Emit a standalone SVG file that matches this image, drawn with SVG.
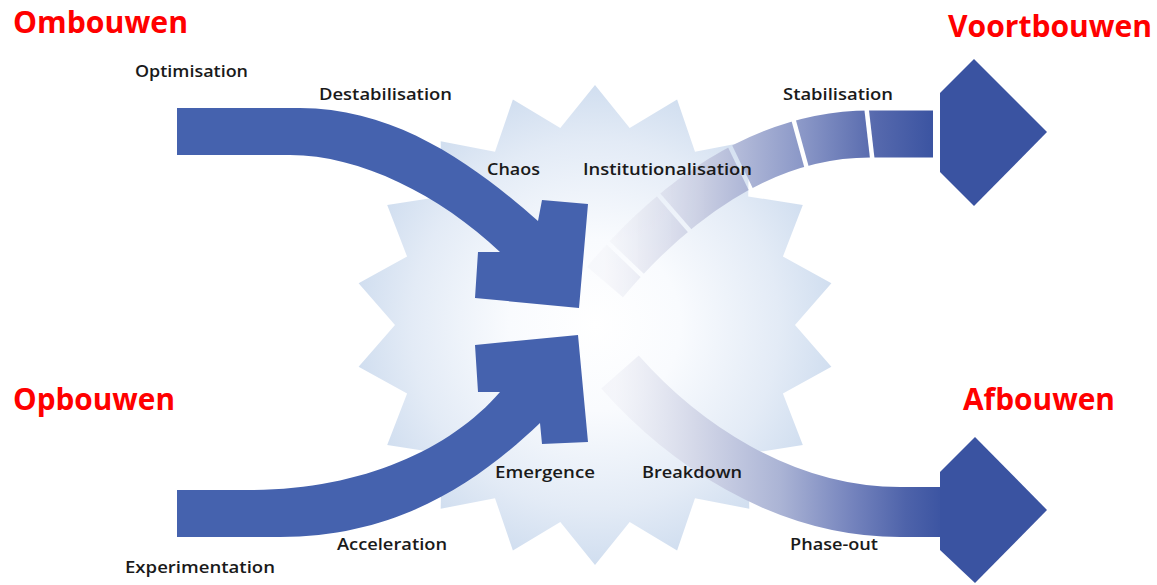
<svg xmlns="http://www.w3.org/2000/svg" width="1157" height="585" viewBox="0 0 1157 585">
<defs>
<style>
.lbl{font-family:"Open Sans","Liberation Sans",sans-serif;font-weight:600;font-size:16px;fill:#1a1a1a}
.ttl{font-family:"Open Sans","Liberation Sans",sans-serif;font-weight:700;font-size:30px;fill:#ff0000}
.solid{fill:#4562ae}
.dark{fill:#3a53a1}
</style>
<radialGradient id="starGrad" gradientUnits="userSpaceOnUse" cx="595" cy="325" r="245">
<stop offset="0" stop-color="#ffffff"/>
<stop offset="0.35" stop-color="#f9fbfe"/>
<stop offset="0.75" stop-color="#e3ebf6"/>
<stop offset="1" stop-color="#cfddef"/>
</radialGradient>
<linearGradient id="upGrad" gradientUnits="userSpaceOnUse" x1="605" y1="0" x2="935" y2="0">
<stop offset="0" stop-color="#f4f5f9" stop-opacity="0.6"/>
<stop offset="0.3" stop-color="#c8cde2"/>
<stop offset="0.6" stop-color="#8a97c7"/>
<stop offset="0.82" stop-color="#5669ad"/>
<stop offset="1" stop-color="#3a53a1"/>
</linearGradient>
<linearGradient id="downGrad" gradientUnits="userSpaceOnUse" x1="615" y1="0" x2="945" y2="0">
<stop offset="0" stop-color="#f0f1f7" stop-opacity="0.6"/>
<stop offset="0.25" stop-color="#d3d7e8"/>
<stop offset="0.5" stop-color="#abb4d5"/>
<stop offset="0.72" stop-color="#7483bd"/>
<stop offset="0.88" stop-color="#4e63aa"/>
<stop offset="1" stop-color="#3a53a1"/>
</linearGradient>
<mask id="gaps" maskUnits="userSpaceOnUse" x="0" y="0" width="1157" height="585">
<rect x="0" y="0" width="1157" height="585" fill="#fff"/>
<g stroke="#000" stroke-width="4.5">
<line x1="866" y1="104" x2="873" y2="165"/>
<line x1="793" y1="118" x2="809" y2="176"/>
<line x1="728" y1="142" x2="754" y2="196"/>
<line x1="656" y1="192" x2="696" y2="238"/>
<line x1="603" y1="238" x2="647" y2="280"/>
</g>
</mask>
</defs>
<rect width="1157" height="585" fill="#ffffff"/>

<g id="chaos-star">
<polygon fill="url(#starGrad)" points="595,85 629.7,128 677.1,99.5 695,151.8 749.3,141.2 748.2,196.4 802.8,205 782.9,256.6 831.4,283.3 795,325 831.4,366.7 782.9,393.4 802.8,445 748.2,453.6 749.3,508.8 695,498.2 677.1,550.5 629.7,522 595,565 560.3,522 512.9,550.5 495,498.2 440.7,508.8 441.8,453.6 387.2,445 407.1,393.4 358.6,366.7 395,325 358.6,283.3 407.1,256.6 387.2,205 441.8,196.4 440.7,141.2 495,151.8 512.9,99.5 560.3,128"/>
</g>

<g id="connectors">
<g id="arrow-institutionalisation">
<path d="M605,282 C670,205 760,134 870,134 L933,134" fill="none" stroke="url(#upGrad)" stroke-width="47" mask="url(#gaps)"/>
<polygon class="dark" points="940,93 974,59 1047,132 974,206 940,172"/>
</g>
<g id="arrow-breakdown">
<path d="M620,372 C680,440 780,512 900,512 L946,512" fill="none" stroke="url(#downGrad)" stroke-width="50"/>
<polygon class="dark" points="940,472 975,437 1047,510 975,583 940,550"/>
</g>
<g id="arrow-destabilisation">
<path class="solid" d="M177,108 L300,108 C400,108 480,170 538,221 L542,200 L588,204 L579,308 L475,298 L478,252 L500,252 C440,195 360,155 290,155 L177,155 Z"/>
</g>
<g id="arrow-acceleration">
<path class="solid" d="M177,490 L250,490 C360,490 450,450 500,392 L478,392 L475,345 L578,335 L588,442 L542,444 L540,423 C480,480 400,537 280,537 L177,537 Z"/>
</g>
</g>

<g id="label-optimisation"><text class="lbl" x="135" y="77" textLength="113" lengthAdjust="spacingAndGlyphs">Optimisation</text></g>
<g id="label-destabilisation"><text class="lbl" x="319" y="100" textLength="133" lengthAdjust="spacingAndGlyphs">Destabilisation</text></g>
<g id="label-chaos"><text class="lbl" x="487" y="175" textLength="53" lengthAdjust="spacingAndGlyphs">Chaos</text></g>
<g id="label-institutionalisation"><text class="lbl" x="583" y="175" textLength="169" lengthAdjust="spacingAndGlyphs">Institutionalisation</text></g>
<g id="label-stabilisation"><text class="lbl" x="783" y="100" textLength="110" lengthAdjust="spacingAndGlyphs">Stabilisation</text></g>
<g id="label-emergence"><text class="lbl" x="495" y="478" textLength="100" lengthAdjust="spacingAndGlyphs">Emergence</text></g>
<g id="label-breakdown"><text class="lbl" x="642" y="478" textLength="100" lengthAdjust="spacingAndGlyphs">Breakdown</text></g>
<g id="label-acceleration"><text class="lbl" x="337" y="550" textLength="110" lengthAdjust="spacingAndGlyphs">Acceleration</text></g>
<g id="label-experimentation"><text class="lbl" x="125" y="573" textLength="150" lengthAdjust="spacingAndGlyphs">Experimentation</text></g>
<g id="label-phaseout"><text class="lbl" x="790" y="550" textLength="88" lengthAdjust="spacingAndGlyphs">Phase-out</text></g>

<g id="title-ombouwen"><text class="ttl" x="13" y="33" textLength="175" lengthAdjust="spacingAndGlyphs">Ombouwen</text></g>
<g id="title-voortbouwen"><text class="ttl" x="948" y="37" textLength="204" lengthAdjust="spacingAndGlyphs">Voortbouwen</text></g>
<g id="title-opbouwen"><text class="ttl" x="13" y="410" textLength="162" lengthAdjust="spacingAndGlyphs">Opbouwen</text></g>
<g id="title-afbouwen"><text class="ttl" x="963" y="410" textLength="152" lengthAdjust="spacingAndGlyphs">Afbouwen</text></g>
</svg>
